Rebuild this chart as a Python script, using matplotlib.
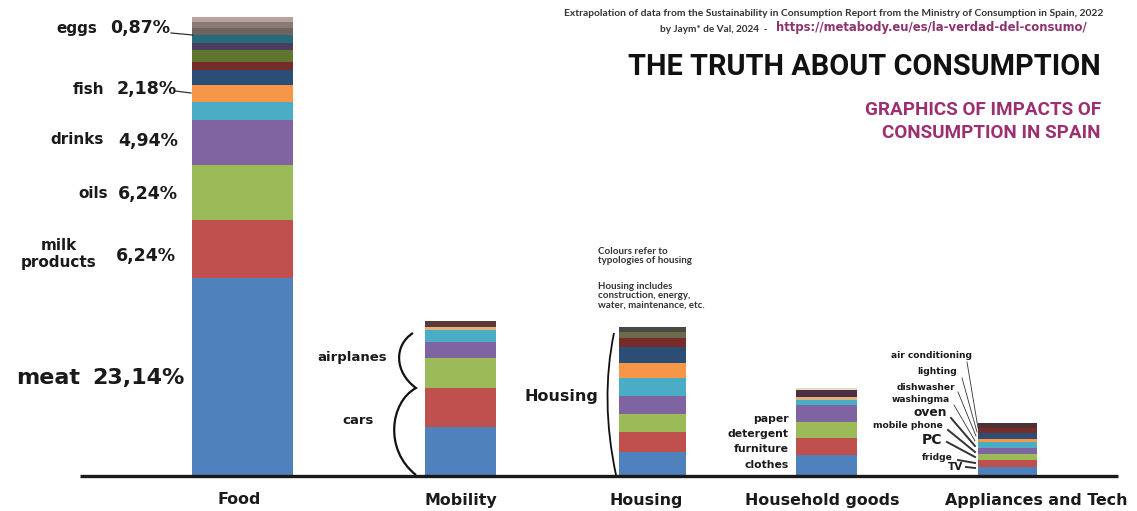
import matplotlib
matplotlib.use("Agg")
import matplotlib.pyplot as plt
from matplotlib.path import Path
from matplotlib.patches import PathPatch

# segment heights (bottom to top), units where meat = 23.14
food = [23.14, 6.82, 6.46, 5.29, 2.12, 2.00, 1.76, 0.94, 1.41, 0.82, 0.94, 0.82, 0.70, 0.59]
mobility = [5.64, 4.58, 3.53, 1.88, 1.41, 0.35, 0.71]
housing = [2.70, 2.35, 2.12, 2.12, 2.12, 1.76, 1.88, 1.06, 0.71, 0.59]
household = [2.35, 2.00, 1.88, 2.00, 0.59, 0.35, 0.82, 0.24]
appliances = [0.94, 0.82, 0.71, 0.71, 0.71, 0.35, 0.71, 0.59, 0.59]

categories = ["Food", "Mobility", "Housing", "Household goods", "Appliances and Tech"]

food_names = ["eggs", "fish", "drinks", "oils", "milk\nproducts", "meat"]
food_pcts = ["0,87%", "2,18%", "4,94%", "6,24%", "6,24%", "23,14%"]
household_names = ["paper", "detergent", "furniture", "clothes"]
appliance_names = ["air conditioning", "lighting", "dishwasher", "washingma", "oven",
                   "mobile phone", "PC", "fridge", "TV"]

BLUE, RED, GREEN, PURPLE, AQUA, ORANGE = "#4f81bd", "#c0504d", "#9bbb59", "#8064a2", "#4bacc6", "#f79646"
DBLUE, DRED, DGREEN, DPURPLE, DAQUA = "#2c4d75", "#772c2a", "#5f7530", "#4d3b62", "#276a7c"
TAN, BROWN = "#e0b27a", "#5a3a36"

colors = {
    "Food": [BLUE, RED, GREEN, PURPLE, AQUA, ORANGE, DBLUE, DRED, DGREEN, DPURPLE, DAQUA,
             "#6f6460", "#8a7a74", "#b9a19c"],
    "Mobility": [BLUE, RED, GREEN, PURPLE, AQUA, TAN, BROWN],
    "Housing": [BLUE, RED, GREEN, PURPLE, AQUA, ORANGE, DBLUE, DRED, "#6b6a4a", "#4a4a44"],
    "Household goods": [BLUE, RED, GREEN, PURPLE, AQUA, TAN, "#4a2f45", "#e8d8c8"],
    "Appliances and Tech": [BLUE, RED, GREEN, PURPLE, AQUA, ORANGE, DBLUE, DRED, "#4b3236"],
}
values = dict(zip(categories, [food, mobility, housing, household, appliances]))

W, H = 1137, 511
BASE = 475          # baseline pixel row
PPU = 8.51          # pixels per unit

fig = plt.figure(figsize=(W / 100, H / 100), dpi=100)
ax = fig.add_axes([0, (H - BASE) / H, 1, BASE / H])
ax.set_xlim(0, W)
ax.set_ylim(0, BASE / PPU)
ax.axis("off")

centers = [242, 460, 652, 826, 1007]
widths = [101, 71, 67, 61, 59]
for cat, xc, w in zip(categories, centers, widths):
    bottom = 0
    for v, c in zip(values[cat], colors[cat]):
        ax.bar(xc, v, width=w, bottom=bottom, color=c, linewidth=0)
        bottom += v

# overlay in pixel coordinates for annotations
ov = fig.add_axes([0, 0, 1, 1])
ov.set_xlim(0, W)
ov.set_ylim(H, 0)
ov.axis("off")
ov.patch.set_alpha(0)

ov.plot([80, 1118], [BASE + 1, BASE + 1], color="#1a1a1a", lw=2.4, solid_capstyle="butt")

lab = dict(family="DejaVu Sans", weight="bold", color="#1a1a1a")
cat_x = [239, 461, 646, 822, 1036]
for name, x in zip(categories, cat_x):
    ov.text(x, 500, name, ha="center", va="center", fontsize=11.4, **lab)

# food labels
name_pos = [(97, 28), (104, 89), (104, 139), (108, 194), (97, 254), (80, 378)]
pct_pos = [(110, 28), (117, 89), (118, 141), (118, 194), (116, 256), (92, 378)]
for i, (n, p) in enumerate(zip(food_names, food_pcts)):
    big = n == "meat"
    ov.text(*name_pos[i], n, ha="right", va="center", fontsize=16 if big else 11,
            multialignment="center", linespacing=1.1, **lab)
    ov.text(*pct_pos[i], p, ha="left", va="center", fontsize=16 if big else 12.5, **lab)
ov.plot([171, 193], [33, 35], color="#333", lw=0.9)
ov.plot([175, 191], [91, 93], color="#333", lw=0.9)

# mobility braces
ov.text(352, 357, "airplanes", ha="center", va="center", fontsize=9.5, **lab)
ov.text(358, 421, "cars", ha="center", va="center", fontsize=9.5, **lab)
verts = [(413, 333), (394, 345), (394, 372), (416, 388),
         (390, 402), (384, 450), (416, 475)]
codes = [Path.MOVETO, Path.CURVE4, Path.CURVE4, Path.CURVE4,
         Path.CURVE4, Path.CURVE4, Path.CURVE4]
ov.add_patch(PathPatch(Path(verts, codes), fill=False, lw=1.6, color="#111"))

# housing
ov.text(561, 396, "Housing", ha="center", va="center", fontsize=11.5, **lab)
ov.add_patch(PathPatch(Path([(614, 333), (600, 400), (616, 475)],
                            [Path.MOVETO, Path.CURVE3, Path.CURVE3]),
                       fill=False, lw=1.3, color="#111"))
note = dict(family="Lato", weight="bold", color="#333", fontsize=7, ha="left", va="center",
            linespacing=1.05)
ov.text(598, 256, "Colours refer to\ntypologies of housing", **note)
ov.text(598, 296, "Housing includes\nconstruction, energy,\nwater, maintenance, etc.", **note)

# household goods
for n, y in zip(household_names, [419, 434, 449, 465]):
    ov.text(789, y, n, ha="right", va="center", fontsize=7.8, **lab)

# appliances
app_text = [(972, 356), (957, 372), (955, 387), (950, 400), (947, 413),
            (943, 426), (942, 440), (953, 457), (963, 467)]
app_line = [((967, 362), (978, 428)), ((962, 378), (977, 432)), ((958, 392), (976, 436)),
            ((954, 405), (975, 441)), ((951, 418), (975, 446)), ((948, 430), (975, 452)),
            ((947, 442), (975, 457)), ((958, 460), (975, 463)), ((966, 467), (975, 468))]
app_size = [6.6, 6.6, 6.6, 6.6, 8.8, 6.6, 10, 6.6, 7.5]
for n, (tx, ty), (p0, p1), fs in zip(appliance_names, app_text, app_line, app_size):
    ov.text(tx, ty, n, ha="right", va="center", fontsize=fs, **lab)
    lw = 1.4 if n in ("oven", "mobile phone", "PC", "fridge", "TV") else 0.6
    ov.plot([p0[0], p1[0]], [p0[1], p1[1]], color="#333", lw=lw)

# headings
ov.text(1103, 14, "Extrapolation of data from the Sustainability in Consumption Report "
        "from the Ministry of Consumption in Spain, 2022",
        ha="right", va="center", fontsize=7.35, family="Lato", weight="bold", color="#333")
ov.text(768, 29, "by Jaym* de Val, 2024  -", ha="right", va="center", fontsize=7.2,
        family="Lato", weight="bold", color="#333")
ov.text(776, 28, "https://metabody.eu/es/la-verdad-del-consumo/", ha="left", va="center",
        fontsize=8.4, family="DejaVu Sans", weight="bold", color="#8e3370")
ov.text(1101, 67, "THE TRUTH ABOUT CONSUMPTION", ha="right", va="center", fontsize=20.8,
        family="Roboto", weight="bold", color="#111")
ov.text(1101, 121.5, "GRAPHICS OF IMPACTS OF\nCONSUMPTION IN SPAIN", ha="right", va="center",
        fontsize=13.6, family="Roboto", weight="bold", color="#9c2f6f", linespacing=1.4)

fig.savefig("out.png", dpi=100, facecolor="white")
